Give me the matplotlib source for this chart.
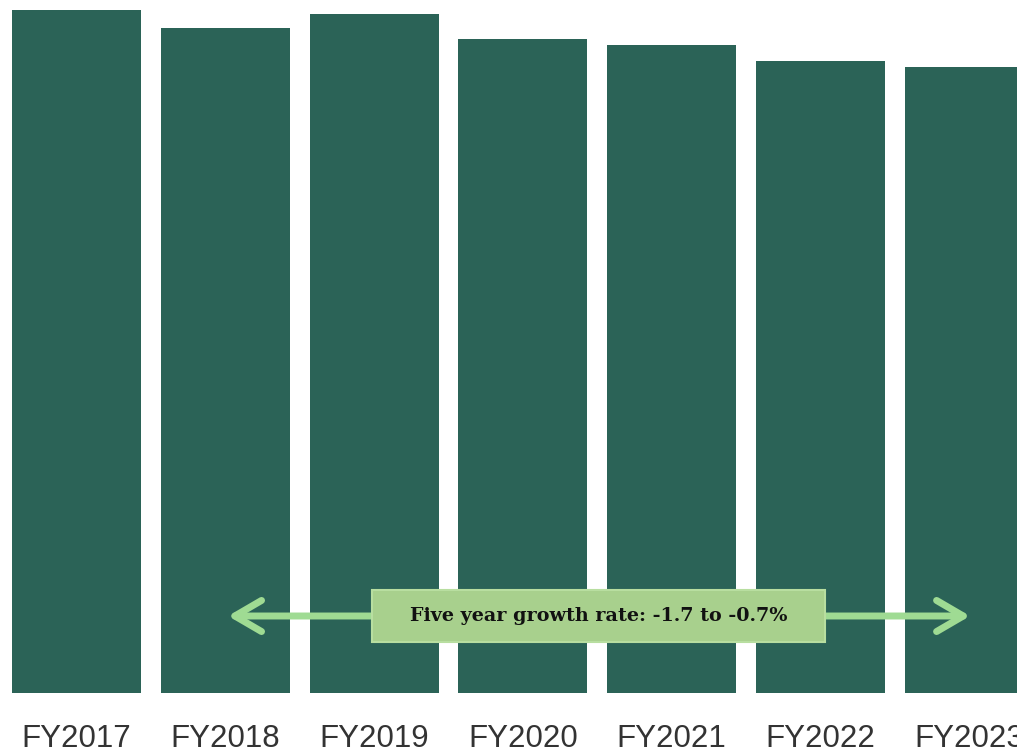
import matplotlib
matplotlib.use("Agg")
import matplotlib.pyplot as plt
from matplotlib.patches import FancyArrowPatch, Rectangle

categories = ["FY2017", "FY2018", "FY2019", "FY2020", "FY2021", "FY2022", "FY2023"]
values = [683, 665, 679, 654, 648, 632, 626]
annotation = "Five year growth rate: -1.7 to -0.7%"

fig = plt.figure(figsize=(10.17, 7.54), dpi=100)
ax = fig.add_axes([0, 61 / 754, 1, 693 / 754])
x = list(range(len(categories)))
ax.bar(x, values, width=0.867, color="#2b6357", zorder=1)
ax.set_xlim(-0.514, 6.32)
ax.set_ylim(0, 693)
for s in ax.spines.values():
    s.set_visible(False)
ax.set_yticks([])
ax.set_xticks(x)
ax.set_xticklabels(categories, fontsize=22.5, color="#333333", family="Liberation Sans")
ax.tick_params(axis="x", length=0, pad=22.5)

arrow = FancyArrowPatch((1.018, 77), (6.005, 77), arrowstyle="<->,head_length=12,head_width=7",
                        color="#9fdb93", lw=5, mutation_scale=1.6, zorder=2,
                        shrinkA=0, shrinkB=0, capstyle="round", joinstyle="round")
ax.add_patch(arrow)
box_x0 = (372 - 76.5) / 148.8
box_x1 = (825 - 76.5) / 148.8
ax.add_patch(Rectangle((box_x0, 693 - 642), box_x1 - box_x0, 52, facecolor="#a8d08d",
                       edgecolor="#b8dea0", lw=1.5, zorder=3))
ax.text(3.508, 77, annotation, ha="center", va="center", fontsize=13.8, fontweight="bold",
        family="DejaVu Serif", color="#111111", zorder=4)
fig.savefig("out.png", dpi=100)
